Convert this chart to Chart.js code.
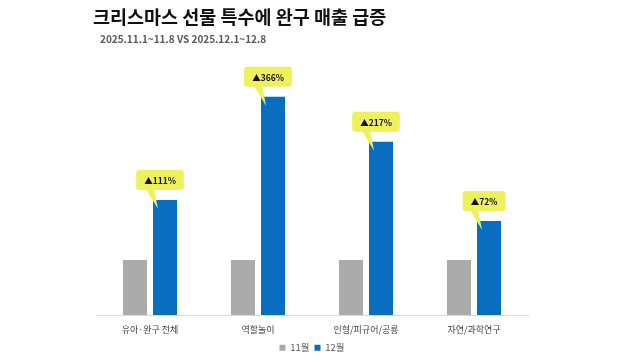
<!DOCTYPE html>
<html>
<head>
<meta charset="utf-8">
<script src="https://cdn.jsdelivr.net/npm/chart.js@4/dist/chart.umd.min.js"></script>
<style>
  html, body { margin: 0; padding: 0; background: #ffffff; }
  #wrap { width: 620px; height: 360px; position: relative; }
</style>
</head>
<body>
<div id="wrap"><canvas id="c" width="620" height="360"></canvas></div>
<script>
// ---- data ----
const titleText = '크리스마스 선물 특수에 완구 매출 급증';
const subtitleText = '2025.11.1~11.8 VS 2025.12.1~12.8';
const categories = ['유아·완구 전체', '역할놀이', '인형/피규어/공룡', '자연/과학연구'];
const seriesNames = ['11월', '12월'];
const novValues = [100, 100, 100, 100];
const decValues = [209, 397, 315, 171];
const growthLabels = ['▲111%', '▲366%', '▲217%', '▲72%'];

const FONT = '"Noto Sans CJK KR", "Noto Sans", sans-serif';

const legendFitPlugin = {
  id: 'legendFit',
  afterInit(chart) {
    const lg = chart.legend;
    if (!lg) return;
    const orig = lg.fit.bind(lg);
    lg.fit = function () {
      orig();
      this.height = 22;
      this.bottom = this.top + this.height;
    };
  }
};

const headerPlugin = {
  id: 'header',
  afterDraw(chart) {
    const ctx = chart.ctx;
    ctx.save();
    ctx.textBaseline = 'middle';
    ctx.textAlign = 'left';
    ctx.fillStyle = '#111111';
    ctx.font = 'bold 18.5px ' + FONT;
    ctx.fillText(titleText, 93, 17);
    ctx.fillStyle = '#595959';
    ctx.font = 'bold 10px ' + FONT;
    ctx.fillText(subtitleText, 100, 39);
    ctx.restore();
  }
};

const calloutPlugin = {
  id: 'callouts',
  afterDatasetsDraw(chart) {
    const ctx = chart.ctx;
    const meta = chart.getDatasetMeta(1);
    ctx.save();
    ctx.font = 'bold 8.5px ' + FONT;
    meta.data.forEach((bar, i) => {
      const txt = growthLabels[i];
      const tw = ctx.measureText(txt).width;
      const w = tw + 16, h = 20;
      const cx = bar.x - 5;
      const bottom = bar.y - 10;
      const top = bottom - h;
      const left = cx - w / 2;
      ctx.fillStyle = '#EEF05C';
      ctx.beginPath();
      ctx.roundRect(left, top, w, h, 3);
      ctx.fill();
      ctx.beginPath();
      ctx.moveTo(bar.x - 19, bottom - 1);
      ctx.lineTo(bar.x - 11, bottom - 1);
      ctx.lineTo(bar.x - 7, bar.y + 9);
      ctx.closePath();
      ctx.fill();
      ctx.fillStyle = '#111111';
      ctx.textAlign = 'center';
      ctx.textBaseline = 'middle';
      ctx.fillText(txt, cx, top + h / 2 + 1);
    });
    ctx.restore();
  }
};

new Chart(document.getElementById('c'), {
  type: 'bar',
  data: {
    labels: categories,
    datasets: [
      { label: seriesNames[0], data: novValues, backgroundColor: '#ABABAB' },
      { label: seriesNames[1], data: decValues, backgroundColor: '#0A6EC0' }
    ]
  },
  options: {
    responsive: false,
    animation: false,
    devicePixelRatio: 1,
    categoryPercentage: 0.556,
    barPercentage: 0.8,
    layout: { padding: { left: 96, right: 92, top: 62, bottom: 0 } },
    plugins: {
      title: { display: false },
      tooltip: { enabled: false },
      legend: {
        position: 'bottom',
        labels: {
          boxWidth: 6, boxHeight: 6, padding: 5,
          color: '#595959',
          font: { family: FONT, size: 9.5 }
        }
      }
    },
    scales: {
      x: {
        grid: { display: false, drawTicks: false },
        border: { display: true, color: '#D9D9D9', width: 1 },
        ticks: { padding: 9, color: '#404040', font: { family: FONT, size: 9 } },
        afterFit(scale) { scale.height = 23; }
      },
      y: {
        display: false,
        min: 0, max: 460
      }
    }
  },
  plugins: [legendFitPlugin, headerPlugin, calloutPlugin]
});
</script>
</body>
</html>
